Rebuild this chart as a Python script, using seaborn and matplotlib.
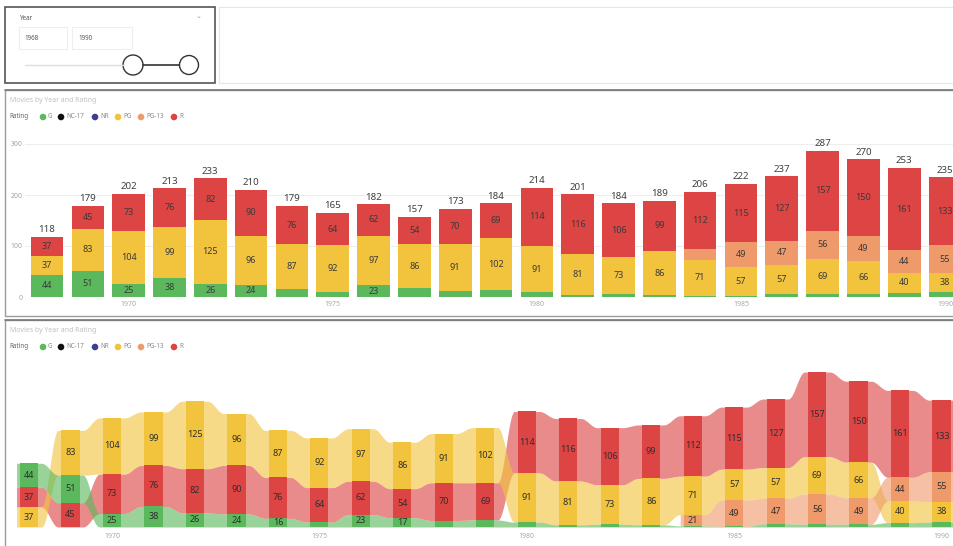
import numpy as np
import pandas as pd
import matplotlib
matplotlib.use("Agg")
import matplotlib.pyplot as plt
from matplotlib.patches import Rectangle, Circle
import seaborn as sns

# ---- data -----------------------------------------------------------------
years = list(range(1968, 1991))
ratings = ["G", "NC-17", "NR", "PG", "PG-13", "R"]
g_counts = [44, 51, 25, 38, 26, 24, 16, 9, 23, 17, 12, 13, 9, 4, 5, 4, 2, 1, 6, 5, 5, 8, 9]
nc17_counts = [0] * 23
nr_counts = [0] * 23
pg_counts = [37, 83, 104, 99, 125, 96, 87, 92, 97, 86, 91, 102, 91, 81, 73, 86, 71, 57, 57, 69, 66, 40, 38]
pg13_counts = [0] * 16 + [21, 49, 47, 56, 49, 44, 55]
r_counts = [37, 45, 73, 76, 82, 90, 76, 64, 62, 54, 70, 69, 114, 116, 106, 99, 112, 115, 127, 157, 150, 161, 133]
axis_years = [1970, 1975, 1980, 1985, 1990]
slider_range = ["1968", "1990"]

series = {"G": g_counts, "NC-17": nc17_counts, "NR": nr_counts,
          "PG": pg_counts, "PG-13": pg13_counts, "R": r_counts}
colors = {"G": "#5cb85c", "NC-17": "#111111", "NR": "#3b3f8c",
          "PG": "#f2c43d", "PG-13": "#ef9a6b", "R": "#dd4444"}

df = pd.DataFrame(series, index=years)
totals = df.sum(axis=1)

# ---- figure / helpers -----------------------------------------------------
W, H = 954, 546
sns.set_theme(style="white")
plt.rcParams["font.family"] = ["Noto Sans", "DejaVu Sans"]
fig = plt.figure(figsize=(W / 100, H / 100), dpi=100)
fig.patch.set_facecolor("white")


def axes_px(left, top, right, bottom):
    return fig.add_axes([left / W, 1 - bottom / H, (right - left) / W, (bottom - top) / H])


# ---- stacked column chart -------------------------------------------------
ax = axes_px(25, 133, 954, 297)
ax.set_facecolor("none")
for yv in (100, 200, 300):
    ax.axhline(yv, color="#eeeeee", lw=0.8, zorder=0)

n = len(years)
cum = np.zeros(n)
stack_tops = {}
for rt in ratings:
    cum = cum + np.array(series[rt])
    stack_tops[rt] = cum.copy()

for rt in reversed(ratings):
    if sum(series[rt]) == 0:
        continue
    sub = pd.DataFrame({"year": years, "top": stack_tops[rt]})
    sns.barplot(data=sub, x="year", y="top", order=years, color=colors[rt],
                saturation=1, width=0.8, linewidth=0, ax=ax, zorder=2)

below = np.zeros(n)
for rt in ratings:
    vals = np.array(series[rt])
    for i, v in enumerate(vals):
        if v >= 22:
            ax.text(i, below[i] + v / 2, str(v), ha="center", va="center",
                    fontsize=6.5, color="#3a3a3a", zorder=4)
    below = below + vals
for i, t in enumerate(totals):
    ax.text(i, t + 5, str(t), ha="center", va="bottom", fontsize=7,
            color="#404040", clip_on=False, zorder=4)

ax.set_xlim(-0.54, 22.22)
ax.set_ylim(0, (297 - 133) / 0.51)
ax.set_xticks([years.index(y) for y in axis_years])
ax.set_xticklabels([str(y) for y in axis_years])
ax.set_yticks([0, 100, 200, 300])
ax.set_yticklabels(["0", "100", "200", "300"])
ax.tick_params(axis="both", labelsize=5, colors="#a8a8a8", length=0, pad=3)
ax.tick_params(axis="y", pad=2)
ax.set_xlabel("")
ax.set_ylabel("")
for s in ax.spines.values():
    s.set_visible(False)

# ---- ribbon chart ---------------------------------------------------------
rx = axes_px(8, 355, 954, 527)
rx.set_facecolor("none")
rank_key = {rt: k for k, rt in enumerate(ratings)}
lo = {rt: np.zeros(n) for rt in ratings}
hi = {rt: np.zeros(n) for rt in ratings}
for i in range(n):
    present = [rt for rt in ratings if series[rt][i] > 0]
    present.sort(key=lambda rt: (series[rt][i], rank_key[rt]))  # bottom -> top
    base = 0.0
    for rt in present:
        lo[rt][i] = base
        base += series[rt][i]
        hi[rt][i] = base

FLAT, BAND = 0.3, 0.22


def ease(a, b, m=24):
    t = np.linspace(0, 1, m)
    return a + (b - a) * (1 - np.cos(np.pi * t)) / 2


draw_order = ["R", "PG", "PG-13", "G", "NR", "NC-17"]
for rt in draw_order:
    vals = series[rt]
    i = 0
    while i < n:
        if vals[i] <= 0:
            i += 1
            continue
        j = i
        while j + 1 < n and vals[j + 1] > 0:
            j += 1
        xs, ylo, yhi = [], [], []
        for k in range(i, j + 1):
            xs += [k - FLAT, k + FLAT]
            ylo += [lo[rt][k], lo[rt][k]]
            yhi += [hi[rt][k], hi[rt][k]]
            if k < j:
                xs += list(np.linspace(k + FLAT, k + 1 - FLAT, 24))
                ylo += list(ease(lo[rt][k], lo[rt][k + 1]))
                yhi += list(ease(hi[rt][k], hi[rt][k + 1]))
        rx.fill_between(xs, ylo, yhi, color=colors[rt], alpha=0.62, lw=0, zorder=1)
        i = j + 1

for rt in ratings:
    for i in range(n):
        v = series[rt][i]
        if v <= 0:
            continue
        rx.add_patch(Rectangle((i - BAND, lo[rt][i]), 2 * BAND, v,
                               facecolor=colors[rt], edgecolor="none", zorder=2))
        if v >= 15:
            rx.text(i, lo[rt][i] + v / 2, str(v), ha="center", va="center",
                    fontsize=6.5, color="#2e2e2e", zorder=3)

rx.set_xlim(-0.506, 22.3)
rx.set_ylim(0, (527 - 355) / 0.54)
rx.set_xticks([years.index(y) for y in axis_years])
rx.set_xticklabels([str(y) for y in axis_years])
rx.set_yticks([])
rx.tick_params(axis="x", labelsize=5, colors="#a8a8a8", length=0, pad=4)
for s in rx.spines.values():
    s.set_visible(False)

# ---- report furniture (pixel coordinates) --------------------------------
deco = fig.add_axes([0, 0, 1, 1])
deco.set_xlim(0, W)
deco.set_ylim(H, 0)
deco.set_facecolor("none")
deco.axis("off")

# year slicer card
deco.add_patch(Rectangle((5, 7), 210, 76, fill=False, edgecolor="#555555", lw=1.2))
deco.add_patch(Rectangle((219, 7), 740, 76, fill=False, edgecolor="#e6e6e6", lw=0.8))
deco.text(20, 18, "Year", fontsize=4.5, color="#555555", va="center")
deco.text(199, 17, "⌄", fontsize=5, color="#999999", ha="center", va="center")
deco.add_patch(Rectangle((19, 27), 48, 22, fill=False, edgecolor="#eeeeee", lw=0.8))
deco.add_patch(Rectangle((72, 27), 60, 22, fill=False, edgecolor="#eeeeee", lw=0.8))
deco.text(24, 38, slider_range[0], fontsize=4.5, color="#555555", va="center")
deco.text(78, 38, slider_range[1], fontsize=4.5, color="#555555", va="center")
deco.plot([25, 124], [65, 65], color="#dddddd", lw=1.0)
deco.plot([143, 179], [65, 65], color="#333333", lw=1.2)
deco.add_patch(Circle((133, 65), 10, facecolor="white", edgecolor="#333333", lw=1.0))
deco.add_patch(Circle((189, 65), 9.5, facecolor="white", edgecolor="#333333", lw=1.0))

# chart panels
for top, bottom in ((90, 316), (320, 548)):
    deco.add_patch(Rectangle((5, top), 950, bottom - top, fill=False,
                             edgecolor="#9a9a9a", lw=1.0))
    deco.plot([5, 954], [top, top], color="#777777", lw=1.2)
    deco.text(10, top + 10, "Movies by Year and Rating", fontsize=5,
              color="#c0c0c0", va="center")
    ly = top + 27
    deco.text(9, ly, "Rating", fontsize=4.5, color="#666666", va="center")
    legend_x = {"G": 43, "NC-17": 61, "NR": 95, "PG": 118, "PG-13": 141, "R": 174}
    for rt in ratings:
        x0 = legend_x[rt]
        deco.add_patch(Circle((x0, ly), 3.3, facecolor=colors[rt], edgecolor="none"))
        deco.text(x0 + 5, ly, rt, fontsize=4.5, color="#888888", va="center")

fig.savefig("out.png", dpi=100, facecolor="white")
